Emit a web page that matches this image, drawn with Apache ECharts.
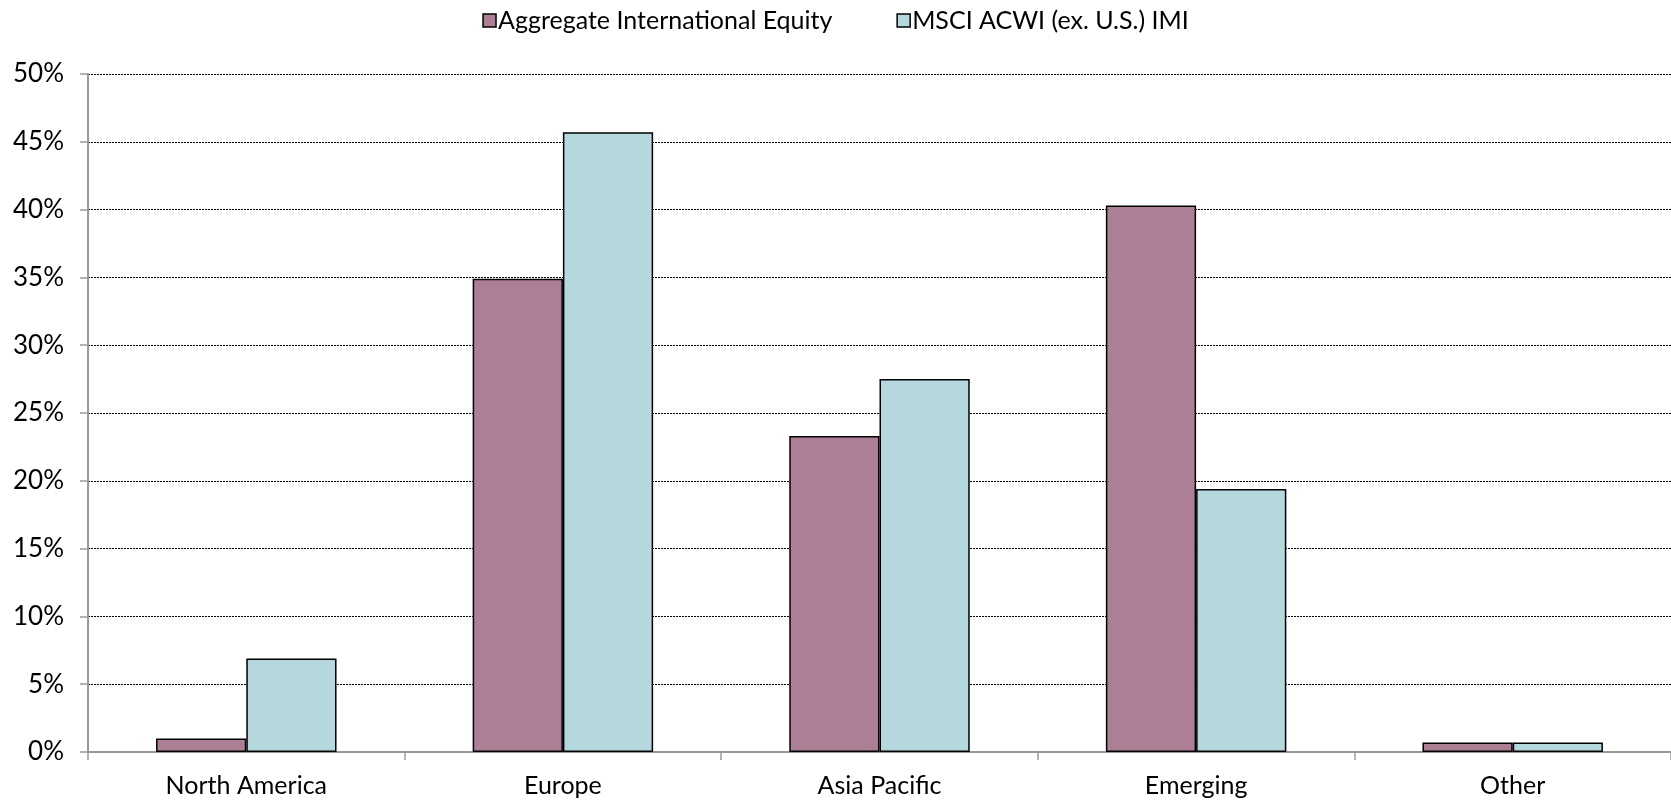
<!DOCTYPE html>
<html><head><meta charset="utf-8">
<script src="https://cdn.jsdelivr.net/npm/echarts@6/dist/echarts.min.js"></script>
<style>html,body{margin:0;padding:0;background:#fff}#c{width:1671px;height:804px}</style>
</head><body><div id="c"></div>
<script>
const categories = ['North America', 'Europe', 'Asia Pacific', 'Emerging', 'Other'];
const seriesNames = ['Aggregate International Equity', 'MSCI ACWI (ex. U.S.) IMI'];
const aggregateValues = [1.0, 34.9, 23.3, 40.3, 0.7];
const msciValues = [6.9, 45.7, 27.5, 19.4, 0.7];
const yTicks = [0, 5, 10, 15, 20, 25, 30, 35, 40, 45, 50];

const FONT = 'Lato';
const chart = echarts.init(document.getElementById('c'), null, {renderer: 'canvas'});
chart.setOption({
  animation: false,
  textStyle: {fontFamily: FONT},
  legend: {
    top: 3, left: 'center',
    itemWidth: 13, itemHeight: 13, itemGap: 64,
    textStyle: {fontFamily: FONT, fontSize: 25, color: '#000', padding: [0,0,0,-3]},
    data: seriesNames.map(n => ({name: n, icon: 'rect', itemStyle: {borderColor: '#000', borderWidth: 1.5}}))
  },
  grid: {left: 88, right: 0, top: 74, bottom: 52, containLabel: false},
  xAxis: {
    type: 'category', data: categories,
    axisLine: {lineStyle: {color: '#999', width: 2}},
    axisTick: {show: true, length: 8, lineStyle: {color: '#999', width: 1.5}},
    axisLabel: {fontFamily: FONT, fontSize: 25, color: '#000', margin: 21}
  },
  yAxis: {
    type: 'value', min: yTicks[0], max: yTicks[yTicks.length-1], interval: 5,
    axisLine: {show: true, lineStyle: {color: '#999', width: 2}},
    axisTick: {show: true, inside: false, length: 8, lineStyle: {color: '#999', width: 1.5}},
    axisLabel: {fontFamily: FONT, fontSize: 26, color: '#000', margin: 24, formatter: v => v + '%'},
    splitLine: {show: true, lineStyle: {color: '#000', type: [2, 1], width: 1}}
  },
  series: [
    {name: seriesNames[0], type: 'bar', data: aggregateValues, barGap: '0%', barCategoryGap: '43%',
     itemStyle: {color: '#AD7F96', borderColor: '#000', borderWidth: 1.5}},
    {name: seriesNames[1], type: 'bar', data: msciValues, barGap: '0%', barCategoryGap: '43%',
     itemStyle: {color: '#B5D8DE', borderColor: '#000', borderWidth: 1.5}}
  ]
});
</script></body></html>
